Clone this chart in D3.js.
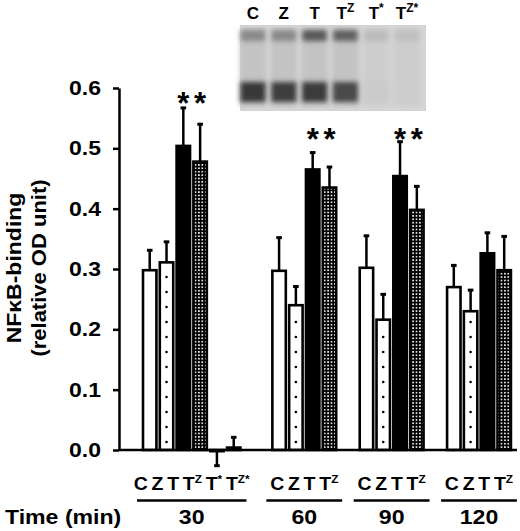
<!DOCTYPE html>
<html>
<head>
<meta charset="utf-8">
<script src="https://cdn.jsdelivr.net/npm/d3@7"></script>
<style>
body{margin:0;background:#fff;}
text{font-family:"Liberation Sans",Arial,sans-serif;font-weight:bold;fill:#000;}
</style>
</head>
<body>
<div class="canvas"></div>
<script>

// data

var groups = ["30", "60", "90", "120"];
var labels30 = ["C", "Z", "T", "TZ", "T*", "TZ*"];
var labelsRest = ["C", "Z", "T", "TZ"];

var values30 = [0.298, 0.311, 0.504, 0.478, -0.002, 0.004];
var errors30 = [0.033, 0.034, 0.063, 0.062, 0.024, 0.017];
var values60 = [0.297, 0.240, 0.465, 0.435];
var errors60 = [0.055, 0.031, 0.028, 0.034];
var values90 = [0.302, 0.216, 0.454, 0.398];
var errors90 = [0.053, 0.042, 0.057, 0.039];
var values120 = [0.270, 0.230, 0.326, 0.298];
var errors120 = [0.036, 0.035, 0.034, 0.056];

// bars marked with * and the level of the stars
var starBars = [["T", "TZ"], ["T", "TZ"], ["T", "TZ"], []];
var starLevel = [0.585, 0.525, 0.525, null];

var yTicks = [0, 0.1, 0.2, 0.3, 0.4, 0.5, 0.6];

// gel inset: band darkness per lane (0 = none, 1 = black)
var blotLanes = ["C", "Z", "T", "TZ", "T*", "TZ*"];
var blotUpper = [0.42, 0.42, 0.7, 0.66, 0.12, 0.1];
var blotLower = [0.9, 0.86, 0.88, 0.8, 0.03, 0.02];

var groupLabels = [labels30, labelsRest, labelsRest, labelsRest];
var groupValues = [values30, values60, values90, values120];
var groupErrors = [errors30, errors60, errors90, errors120];
var gapAfter = [1.7, 1.2, 1.2, 0];

// rows
var rows = [], groupInfo = [], slot = 0;
groups.forEach(function(g, gi){
    var first = slot;
    groupLabels[gi].forEach(function(lab, i){
        rows.push({group:g, gi:gi, label:lab, slot:slot + i,
                   value:groupValues[gi][i], err:groupErrors[gi][i],
                   star:starBars[gi].indexOf(lab) >= 0, starAt:starLevel[gi]});
    });
    slot += groupLabels[gi].length;
    groupInfo.push({name:g, labels:groupLabels[gi], first:first, last:slot - 1});
    slot += gapAfter[gi];
});

var W = 520, H = 531;
var svg = d3.select('.canvas').append('svg')
    .attr('width', W).attr('height', H);

var x = d3.scaleLinear().domain([0, 10]).range([143, 311]);
var barW = (x(1) - x(0)) * 0.8;
var y = d3.scaleLinear().domain([0, 0.6]).range([450, 88]);

function stretch(sel, k){
    sel.attr("transform", function(){
        var t = d3.select(this);
        var tx = +t.attr("x") || 0, ty = +t.attr("y") || 0;
        return "translate(" + tx + "," + ty + ") scale(" + k + ",1) translate(" + (-tx) + "," + (-ty) + ")";
    });
}

// labels with superscript part (TZ -> T^Z, T* -> T^*), several in one line
function addLabels(t, labs, supSize, gap){
    var raised = 0;
    labs.forEach(function(lab, j){
        t.append("tspan").attr("dx", j > 0 ? gap : 0).attr("dy", raised).text(lab[0]);
        raised = 0;
        if (lab.length > 1) {
            var up = supSize * 0.6;
            t.append("tspan").attr("font-size", supSize).attr("dy", -up).text(lab.slice(1));
            raised = up;
        }
    });
}

// patterns
var defs = svg.append("defs");
var pat = defs.append("pattern").attr("id", "tzfill")
    .attr("patternUnits", "userSpaceOnUse").attr("width", 3.4).attr("height", 3.4);
pat.append("rect").attr("width", 3.4).attr("height", 3.4).attr("fill", "#000");
pat.append("rect").attr("x", 0.9).attr("y", 0.9).attr("width", 1.6).attr("height", 1.6).attr("fill", "#fff");

defs.append("filter").attr("id", "blur").attr("x", "-50%").attr("y", "-100%").attr("width", "200%").attr("height", "300%")
    .append("feGaussianBlur").attr("stdDeviation", 2.8);

// gel inset
var lane = d3.scalePoint().domain(blotLanes).range([253, 407]);
var dark = d3.scaleLinear().domain([0, 1]).range(["#d0d0d0", "#262626"]);
var blot = svg.append("g");
blot.append("rect").attr("x", 240).attr("y", 25).attr("width", 186).attr("height", 86).attr("fill", "#d5d5d5");
blot.selectAll(".smear").data(blotLanes).enter().append("rect")
    .attr("x", function(d){ return lane(d) - 13; }).attr("y", 30)
    .attr("width", 26).attr("height", 76)
    .attr("fill", function(d, i){ return i < 4 ? "#c3c3c3" : "#cdcdcd"; })
    .attr("filter", "url(#blur)");
blot.selectAll(".upper").data(blotLanes).enter().append("rect")
    .attr("x", function(d){ return lane(d) - 12; }).attr("y", 30)
    .attr("width", 24).attr("height", 11)
    .attr("fill", function(d, i){ return dark(blotUpper[i]); })
    .attr("filter", "url(#blur)");
blot.selectAll(".lower").data(blotLanes).enter().append("rect")
    .attr("x", function(d){ return lane(d) - 12.5; }).attr("y", 82)
    .attr("width", 25).attr("height", 20)
    .attr("fill", function(d, i){ return dark(blotLower[i]); })
    .attr("filter", "url(#blur)");
blot.selectAll(".blab").data(blotLanes).enter().append("text")
    .attr("x", function(d){ return lane(d); }).attr("y", 19)
    .attr("text-anchor", "middle").attr("font-size", 17)
    .each(function(d){ addLabels(d3.select(this), [d], 12, 0); });

// y axis
var yAxis = svg.append("g").attr("transform", "translate(119,0)")
    .call(d3.axisLeft(y).tickValues(yTicks).tickFormat(d3.format(".1f"))
        .tickSize(6).tickSizeOuter(0).tickPadding(12));
yAxis.select(".domain").attr("stroke-width", 2.5);
yAxis.selectAll(".tick line").attr("stroke-width", 2.5);
yAxis.selectAll(".tick text").attr("font-size", 20).attr("font-family", null).call(stretch, 1.15);

// y title
var yt = svg.append("g").attr("transform", "translate(0,268)");
yt.append("text").attr("transform", "translate(21,0) rotate(-90) scale(1.15,1)")
    .attr("text-anchor", "middle").attr("font-size", 20).text("NFκB-binding");
yt.append("text").attr("transform", "translate(46,0) rotate(-90) scale(1.1,1)")
    .attr("text-anchor", "middle").attr("font-size", 20).text("(relative OD unit)");

// bars
var plot = svg.append("g");
function fillFor(lab){
    if (lab === "T" || lab === "T*") return "#000";
    if (lab === "TZ" || lab === "TZ*") return "url(#tzfill)";
    return "#fff";
}
plot.selectAll(".bar").data(rows).enter().append("rect")
    .attr("class", "bar")
    .attr("x", function(d){ return x(d.slot); })
    .attr("y", function(d){ return Math.min(y(d.value), y(0)); })
    .attr("width", barW)
    .attr("height", function(d){ return Math.abs(y(d.value) - y(0)); })
    .attr("fill", function(d){ return fillFor(d.label); })
    .attr("stroke", "#000").attr("stroke-width", 2.6);

// dots in Z bars
rows.filter(function(d){ return d.label === "Z"; }).forEach(function(d){
    var cx = x(d.slot) + barW / 2;
    for (var py = y(0) - 8; py > y(d.value) + 6; py -= 15) {
        plot.append("circle").attr("cx", cx).attr("cy", py).attr("r", 1.3).attr("fill", "#000");
    }
});

// error bars
function errEnd(d){ return d.value < 0 ? d.value - d.err : d.value + d.err; }
plot.selectAll(".err").data(rows).enter().append("line")
    .attr("x1", function(d){ return x(d.slot) + barW / 2; })
    .attr("x2", function(d){ return x(d.slot) + barW / 2; })
    .attr("y1", function(d){ return y(d.value); })
    .attr("y2", function(d){ return y(errEnd(d)); })
    .attr("stroke", "#000").attr("stroke-width", 2.5);
plot.selectAll(".cap").data(rows).enter().append("rect")
    .attr("x", function(d){ return x(d.slot) + barW / 2 - 2.8; })
    .attr("y", function(d){ return y(errEnd(d)) - 1.5; })
    .attr("width", 5.6).attr("height", 3).attr("fill", "#000");

// stars
plot.selectAll(".star").data(rows.filter(function(d){ return d.star; })).enter().append("text")
    .attr("x", function(d){ return x(d.slot) + barW / 2; })
    .attr("y", function(d){ return y(d.starAt) + 17; })
    .attr("text-anchor", "middle").attr("font-size", 31).text("*");

// x baseline
svg.append("line").attr("x1", 119).attr("x2", 517)
    .attr("y1", y(0)).attr("y2", y(0))
    .attr("stroke", "#000").attr("stroke-width", 2.5);

// category labels, one line per group
svg.selectAll(".clab").data(groupInfo).enter().append("text")
    .attr("x", function(d){ return (x(d.first) + x(d.last) + barW) / 2; }).attr("y", 490)
    .attr("text-anchor", "middle").attr("font-size", 18)
    .each(function(d){ addLabels(d3.select(this), d.labels, 11, 3.5); })
    .call(stretch, 1.08);

// underlines and times
svg.selectAll(".uline").data(groupInfo).enter().append("line")
    .attr("x1", function(d){ return x(d.first) - 6; })
    .attr("x2", function(d){ return x(d.last) + barW + 6; })
    .attr("y1", 500.5).attr("y2", 500.5)
    .attr("stroke", "#000").attr("stroke-width", 2.6);
svg.selectAll(".tlab").data(groupInfo).enter().append("text")
    .attr("x", function(d){ return (x(d.first) + x(d.last) + barW) / 2; }).attr("y", 524)
    .attr("text-anchor", "middle").attr("font-size", 21)
    .text(function(d){ return d.name; })
    .call(stretch, 1.1);
svg.append("text").attr("x", 5).attr("y", 524).attr("font-size", 21)
    .text("Time (min)").call(stretch, 1.1);

</script>
</body>
</html>
